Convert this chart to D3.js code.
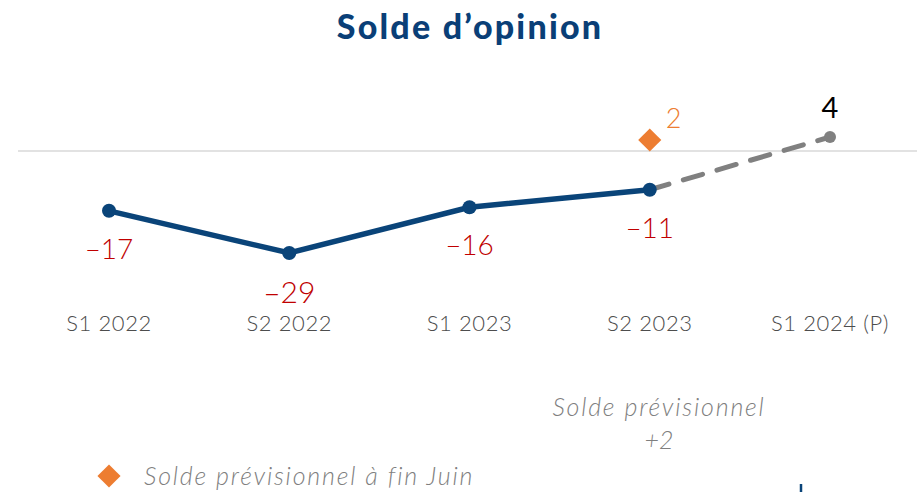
<!DOCTYPE html>
<html lang="fr">
<head>
<meta charset="UTF-8">
<title>Solde d'opinion</title>
<script src="https://cdn.jsdelivr.net/npm/d3@7"></script>
<style>
  body { margin: 0; background: #fff; }
  text { font-family: Lato, "Noto Sans", sans-serif; font-weight: 300; }
</style>
</head>
<body>
<svg id="chart"></svg>
<script>
const periods = ["S1 2022", "S2 2022", "S1 2023", "S2 2023", "S1 2024 (P)"]
const actual = [-17, -29, -16, -11]
const forecast = [{ p: "S2 2023", v: -11 }, { p: "S1 2024 (P)", v: 4 }]
const juneForecast = { p: "S2 2023", v: 2 }

const width = 917, height = 492
const svg = d3.select('#chart').attr('width', width).attr('height', height)

const x = d3.scalePoint().domain(periods).range([109, 830])
const y = d3.scaleLinear().domain([-29, 4]).range([253, 137])

// title
svg.append('text')
  .attr('x', 470).attr('y', 39)
  .attr('text-anchor', 'middle')
  .attr('fill', '#0a3f77')
  .style('font-size', '34px').style('font-weight', 900)
  .style('letter-spacing', '2.2px')
  .text('Solde d\u2019opinion')

// zero line
svg.append('line')
  .attr('x1', 18).attr('x2', width)
  .attr('y1', y(0)).attr('y2', y(0))
  .attr('stroke', '#d9d9d9').attr('stroke-width', 1.5)

// x labels
svg.selectAll('.xl').data(periods).join('text')
  .attr('x', d => x(d)).attr('y', 331)
  .attr('text-anchor', 'middle')
  .attr('fill', '#4d4d4d')
  .style('font-size', '22px')
  .style('letter-spacing', '0.6px')
  .text(d => d)

// dashed forecast
svg.append('path')
  .datum(forecast)
  .attr('d', d3.line().x(d => x(d.p)).y(d => y(d.v)))
  .attr('fill', 'none')
  .attr('stroke', '#808080').attr('stroke-width', 5)
  .attr('stroke-dasharray', '20 15')
  .attr('stroke-linecap', 'round')
svg.append('circle')
  .attr('cx', x(forecast[1].p)).attr('cy', y(forecast[1].v)).attr('r', 6)
  .attr('fill', '#808080')

// actual line
const data = actual.map((v, i) => ({ p: periods[i], v }))
svg.append('path')
  .datum(data)
  .attr('d', d3.line().x(d => x(d.p)).y(d => y(d.v)))
  .attr('fill', 'none')
  .attr('stroke', '#0a4479').attr('stroke-width', 5.5)
svg.selectAll('.pt').data(data).join('circle')
  .attr('cx', d => x(d.p)).attr('cy', d => y(d.v)).attr('r', 7)
  .attr('fill', '#0a4479')

// value labels
svg.selectAll('.vl').data(data).join('text')
  .attr('x', d => x(d.p)).attr('y', d => y(d.v) + (d.v === -29 ? 50 : 48))
  .attr('text-anchor', 'middle')
  .attr('fill', '#c00000')
  .style('font-size', d => d.v === -29 ? '30px' : '28px')
  .text(d => '\u2013' + Math.abs(d.v))

svg.append('text')
  .attr('x', x(forecast[1].p)).attr('y', 118)
  .attr('text-anchor', 'middle')
  .attr('fill', '#000')
  .style('font-size', '29px').style('font-weight', 400)
  .text(forecast[1].v)

// june forecast diamond
const diamond = d3.symbol().type(d3.symbolDiamond2).size(340)
svg.append('path')
  .attr('d', diamond())
  .attr('transform', `translate(${x(juneForecast.p)},${y(juneForecast.v) - 4})`)
  .attr('fill', '#ed7d31')
svg.append('text')
  .attr('x', x(juneForecast.p) + 16).attr('y', 128)
  .attr('fill', '#ed7d31')
  .style('font-size', '27px')
  .text(juneForecast.v)

// annotation
svg.append('text')
  .attr('x', 659).attr('y', 416)
  .attr('text-anchor', 'middle')
  .attr('fill', '#7f7f7f')
  .style('font-size', '25px').style('font-style', 'italic')
  .style('letter-spacing', '1.8px')
  .text('Solde prévisionnel')
svg.append('text')
  .attr('x', 659).attr('y', 449)
  .attr('text-anchor', 'middle')
  .attr('fill', '#7f7f7f')
  .style('font-size', '25px').style('font-style', 'italic')
  .text('+' + juneForecast.v)

// legend
svg.append('path')
  .attr('d', diamond())
  .attr('transform', 'translate(109,476)')
  .attr('fill', '#ed7d31')
svg.append('text')
  .attr('x', 144).attr('y', 485)
  .attr('fill', '#7f7f7f')
  .style('font-size', '25px').style('font-style', 'italic')
  .style('letter-spacing', '1.8px')
  .text('Solde prévisionnel à fin Juin')

// cut-off mark at bottom
svg.append('line')
  .attr('x1', 801).attr('x2', 801).attr('y1', 484).attr('y2', height)
  .attr('stroke', '#0a4479').attr('stroke-width', 2.5)
</script>
</body>
</html>
